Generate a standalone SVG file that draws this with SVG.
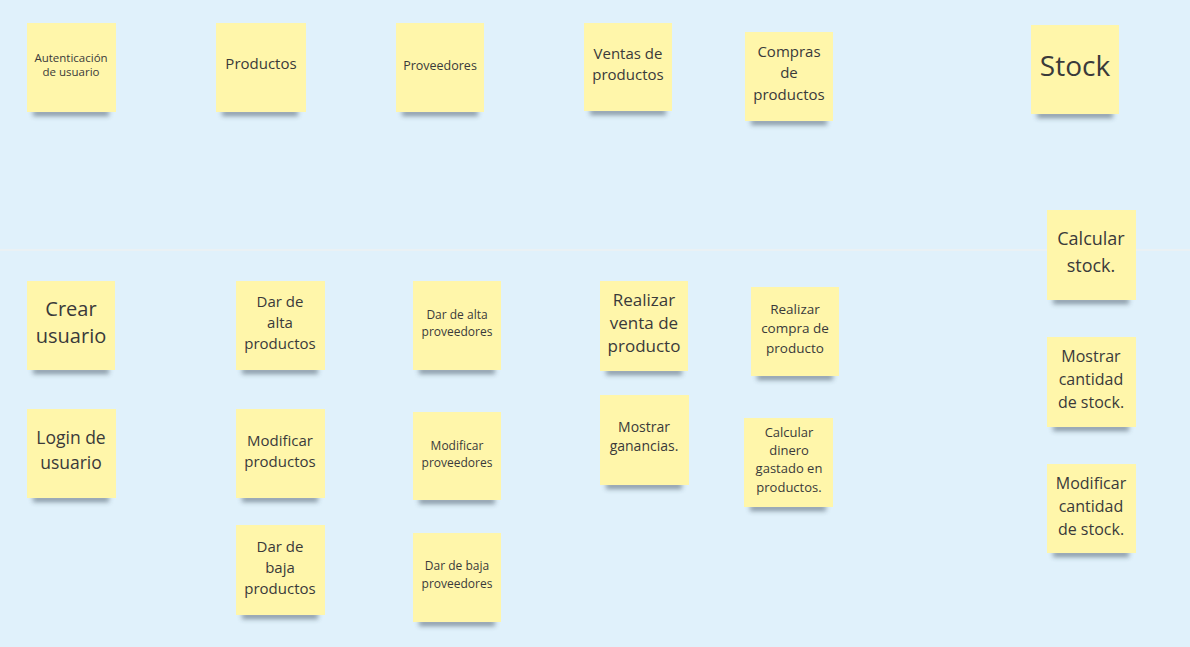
<svg xmlns="http://www.w3.org/2000/svg" width="1190" height="647" viewBox="0 0 1190 647">
<style>
.note{fill:#fff6aa;}
.sh{fill:#2a3a4a;opacity:0.5;filter:url(#blur);}
text{font-family:"Open Sans","Noto Sans","Liberation Sans",sans-serif;fill:#3a3a3a;text-anchor:middle;}
</style>
<defs>
<filter id="blur" x="-20%" y="-100%" width="140%" height="300%"><feGaussianBlur stdDeviation="2.5"/></filter>
</defs>
<rect width="1190" height="647" fill="#e0f1fb"/>
<line x1="0" y1="250" x2="1190" y2="250" stroke="#eef1f2" stroke-width="1.5"/>
<g id="connectors"/>
<g id="n1"><rect class="sh" x="33" y="110" width="76" height="6"/><rect class="note" x="27" y="23" width="89" height="89"/><text font-size="11.5"><tspan x="71" y="62">Autenticación</tspan><tspan x="71" y="76">de usuario</tspan></text></g>
<g id="n2"><rect class="sh" x="222" y="110" width="76" height="6"/><rect class="note" x="216" y="23" width="90" height="89"/><text font-size="15"><tspan x="261" y="69">Productos</tspan></text></g>
<g id="n3"><rect class="sh" x="402" y="110" width="76" height="6"/><rect class="note" x="396" y="23" width="88" height="89"/><text font-size="12.5"><tspan x="440" y="70">Proveedores</tspan></text></g>
<g id="n4"><rect class="sh" x="590" y="109" width="76" height="6"/><rect class="note" x="584" y="23" width="88" height="88"/><text font-size="15"><tspan x="628" y="59">Ventas de</tspan><tspan x="628" y="80">productos</tspan></text></g>
<g id="n5"><rect class="sh" x="751" y="119" width="76" height="6"/><rect class="note" x="745" y="32" width="88" height="89"/><text font-size="15"><tspan x="789" y="57">Compras</tspan><tspan x="789" y="78">de</tspan><tspan x="789" y="100">productos</tspan></text></g>
<g id="n6"><rect class="sh" x="1037" y="112" width="76" height="6"/><rect class="note" x="1031" y="25" width="88" height="89"/><text font-size="28"><tspan x="1075" y="76">Stock</tspan></text></g>
<g id="n7"><rect class="sh" x="1053" y="298" width="76" height="6"/><rect class="note" x="1047" y="210" width="89" height="90"/><text font-size="18"><tspan x="1091" y="245">Calcular</tspan><tspan x="1091" y="272">stock.</tspan></text></g>
<g id="n8"><rect class="sh" x="1053" y="425" width="76" height="6"/><rect class="note" x="1047" y="337" width="89" height="90"/><text font-size="16"><tspan x="1091" y="362">Mostrar</tspan><tspan x="1091" y="385">cantidad</tspan><tspan x="1091" y="408">de stock.</tspan></text></g>
<g id="n9"><rect class="sh" x="1053" y="551" width="76" height="6"/><rect class="note" x="1047" y="464" width="89" height="89"/><text font-size="16"><tspan x="1091" y="489">Modificar</tspan><tspan x="1091" y="512">cantidad</tspan><tspan x="1091" y="535">de stock.</tspan></text></g>
<g id="n10"><rect class="sh" x="33" y="368" width="76" height="6"/><rect class="note" x="27" y="281" width="88" height="89"/><text font-size="20"><tspan x="71" y="316">Crear</tspan><tspan x="71" y="343">usuario</tspan></text></g>
<g id="n11"><rect class="sh" x="33" y="496" width="76" height="6"/><rect class="note" x="27" y="409" width="89" height="89"/><text font-size="17.5"><tspan x="71" y="444">Login de</tspan><tspan x="71" y="469">usuario</tspan></text></g>
<g id="n12"><rect class="sh" x="242" y="368" width="76" height="6"/><rect class="note" x="236" y="281" width="89" height="89"/><text font-size="15"><tspan x="280" y="307">Dar de</tspan><tspan x="280" y="328">alta</tspan><tspan x="280" y="349">productos</tspan></text></g>
<g id="n13"><rect class="sh" x="242" y="496" width="76" height="6"/><rect class="note" x="236" y="409" width="89" height="89"/><text font-size="15"><tspan x="280" y="446">Modificar</tspan><tspan x="280" y="467">productos</tspan></text></g>
<g id="n14"><rect class="sh" x="242" y="613" width="76" height="6"/><rect class="note" x="236" y="525" width="89" height="90"/><text font-size="15"><tspan x="280" y="552">Dar de</tspan><tspan x="280" y="573">baja</tspan><tspan x="280" y="594">productos</tspan></text></g>
<g id="n15"><rect class="sh" x="419" y="368" width="76" height="6"/><rect class="note" x="413" y="281" width="88" height="89"/><text font-size="12"><tspan x="457" y="319">Dar de alta</tspan><tspan x="457" y="336">proveedores</tspan></text></g>
<g id="n16"><rect class="sh" x="419" y="498" width="76" height="6"/><rect class="note" x="413" y="412" width="88" height="88"/><text font-size="12"><tspan x="457" y="450">Modificar</tspan><tspan x="457" y="467">proveedores</tspan></text></g>
<g id="n17"><rect class="sh" x="419" y="620" width="76" height="6"/><rect class="note" x="413" y="533" width="88" height="89"/><text font-size="12"><tspan x="457" y="570">Dar de baja</tspan><tspan x="457" y="588">proveedores</tspan></text></g>
<g id="n18"><rect class="sh" x="606" y="369" width="76" height="6"/><rect class="note" x="600" y="281" width="88" height="90"/><text font-size="17"><tspan x="644" y="306">Realizar</tspan><tspan x="644" y="329">venta de</tspan><tspan x="644" y="352">producto</tspan></text></g>
<g id="n19"><rect class="sh" x="606" y="483" width="76" height="6"/><rect class="note" x="600" y="395" width="89" height="90"/><text font-size="14"><tspan x="644" y="432">Mostrar</tspan><tspan x="644" y="451">ganancias.</tspan></text></g>
<g id="n20"><rect class="sh" x="757" y="374" width="76" height="6"/><rect class="note" x="751" y="287" width="88" height="89"/><text font-size="13.5"><tspan x="795" y="314">Realizar</tspan><tspan x="795" y="333">compra de</tspan><tspan x="795" y="353">producto</tspan></text></g>
<g id="n21"><rect class="sh" x="750" y="505" width="76" height="6"/><rect class="note" x="744" y="418" width="89" height="89"/><text font-size="13"><tspan x="789" y="437">Calcular</tspan><tspan x="789" y="455">dinero</tspan><tspan x="789" y="473">gastado en</tspan><tspan x="789" y="492">productos.</tspan></text></g>
</svg>
